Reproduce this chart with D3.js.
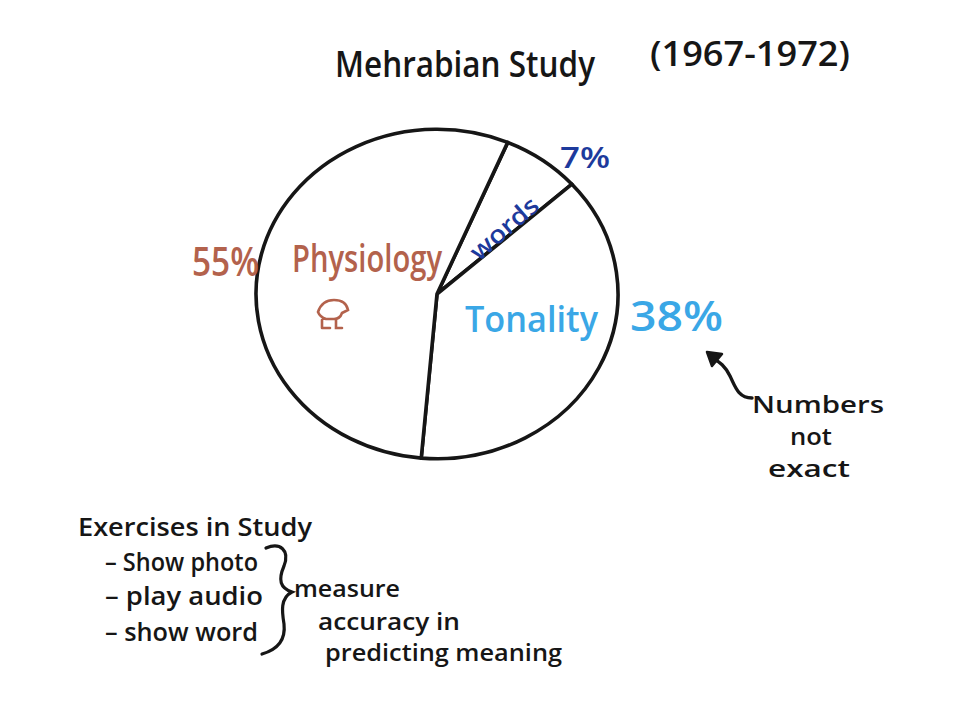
<!DOCTYPE html>
<html>
<head>
<meta charset="utf-8">
<script src="https://cdn.jsdelivr.net/npm/d3@7"></script>
<style>
  html, body { margin: 0; padding: 0; background: #ffffff; }
  svg { display: block; }
  text { font-family: "Open Sans", "DejaVu Sans", sans-serif; font-weight: 600; }
</style>
</head>
<body>
<svg id="chart" width="960" height="720"></svg>
<script>
// ---- data ----
const categories = ["words", "Tonality", "Physiology"];
const values = [7, 38, 55];
const percentLabels = ["7%", "38%", "55%"];
const titleText = "Mehrabian Study";
const yearsText = "(1967-1972)";
const noteLines = ["Numbers", "not", "exact"];
const exerciseTitle = "Exercises in Study";
const exerciseItems = ["– Show photo", "– play audio", "– show word"];
const measureLines = ["measure", "accuracy in", "predicting meaning"];

// ---- styles ----
const ink = "#161616";
const colors = {
  "words": "#1d3a9c",
  "Tonality": "#3aa7e6",
  "Physiology": "#b3624c"
};

const svg = d3.select("#chart");

// ---- pie ----
const cx = 437, cy = 294, R = 181, sy = 0.91;
const startDeg = 23;
const pie = d3.pie().sort(null).value(d => d.v)
  .startAngle(startDeg * Math.PI / 180)
  .endAngle(startDeg * Math.PI / 180 + 2 * Math.PI);
const arcs = pie(categories.map((c, i) => ({ c, v: values[i] })));
const arc = d3.arc().innerRadius(0).outerRadius(R);

const g = svg.append("g").attr("transform", `translate(${cx},${cy}) scale(1,${sy})`);
g.selectAll("path.slice").data(arcs).enter().append("path")
  .attr("class", "slice")
  .attr("d", arc)
  .attr("fill", "#ffffff")
  .attr("stroke", ink)
  .attr("stroke-width", 3.6)
  .attr("stroke-linejoin", "round")
  .attr("vector-effect", "non-scaling-stroke");

// ---- helper ----
function txt(s, x, y, size, color, width, extra) {
  const t = svg.append("text")
    .attr("x", x).attr("y", y)
    .attr("font-size", size)
    .attr("fill", color)
    .text(s);
  if (width) t.attr("textLength", width).attr("lengthAdjust", "spacingAndGlyphs");
  if (extra) extra(t);
  return t;
}

// ---- title ----
txt(titleText, 335, 77, 36, ink, 260, t => t.attr("font-weight", 500));
txt(yearsText, 650, 66, 34, ink, 200, t => t.attr("font-weight", 500));

// ---- slice labels ----
txt(categories[0], 0, 0, 25, colors["words"], 82, t => t
  .attr("font-weight", "bold")
  .attr("text-anchor", "middle")
  .attr("transform", "translate(510,235) rotate(-41)"));
txt(percentLabels[0], 560, 168, 28, colors["words"], 50, t => t.attr("font-weight", "bold"));

txt(categories[2], 292, 272, 38, colors["Physiology"], 150, t => t.attr("font-weight", 500));
txt(percentLabels[2], 192, 276, 40, colors["Physiology"], 67, t => t.attr("font-weight", 500));

txt(categories[1], 465, 332, 36, colors["Tonality"], 133, t => t.attr("font-weight", 500));
txt(percentLabels[1], 630, 331, 42, colors["Tonality"], 93, t => t.attr("font-weight", 500));

// small doodle inside Physiology
svg.append("path")
  .attr("d", "M318,312 q4,-12 16,-12 q12,0 14,10 l-6,3 q-2,6 -8,6 l-8,0 q-6,-2 -8,-7 z M322,320 l0,8 M336,320 l0,8 l6,0 M322,328 l8,0")
  .attr("fill", "none")
  .attr("stroke", colors["Physiology"])
  .attr("stroke-width", 2.6)
  .attr("stroke-linecap", "round");

// ---- annotation arrow ----
svg.append("path")
  .attr("d", "M752,398 C738,398 735,386 730,376 C725,366 720,362 712,358")
  .attr("fill", "none").attr("stroke", ink).attr("stroke-width", 3.4)
  .attr("stroke-linecap", "round");
svg.append("path")
  .attr("d", "M707,352 L722,354 L712,366 Z")
  .attr("fill", ink).attr("stroke", ink).attr("stroke-width", 2.5)
  .attr("stroke-linejoin", "round");

const notePos = [[752, 413, 132], [790, 445, 42], [768, 477, 82]];
noteLines.forEach((s, i) => txt(s, notePos[i][0], notePos[i][1], 22.5, ink, notePos[i][2]));

// ---- exercises ----
txt(exerciseTitle, 78, 536, 25, ink, 234);
const exPos = [[105, 571, 153], [105, 605, 158], [105, 641, 153]];
exerciseItems.forEach((s, i) => txt(s, exPos[i][0], exPos[i][1], 25, ink, exPos[i][2]));

// brace
svg.append("path")
  .attr("d", "M266,548 C280,542 290,550 284,566 C278,580 280,588 292,592 C280,598 282,612 284,624 C286,642 276,650 262,654")
  .attr("fill", "none").attr("stroke", ink).attr("stroke-width", 3.2)
  .attr("stroke-linecap", "round");

const mPos = [[294, 597, 106], [318, 630, 142], [325, 661, 237]];
measureLines.forEach((s, i) => txt(s, mPos[i][0], mPos[i][1], 24, ink, mPos[i][2]));
</script>
</body>
</html>
